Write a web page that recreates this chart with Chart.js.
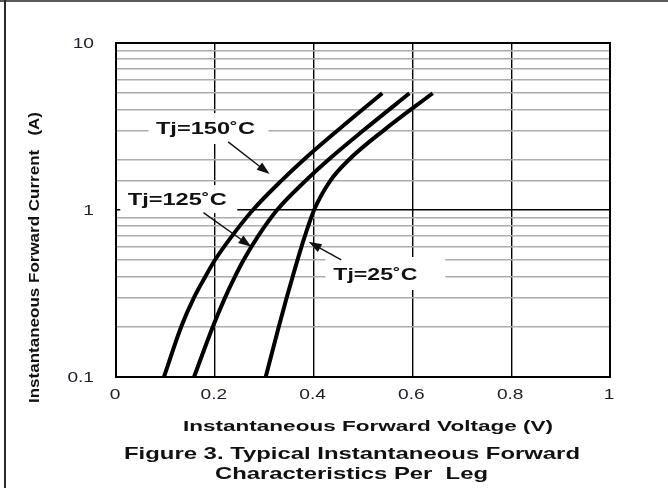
<!DOCTYPE html>
<html>
<head>
<meta charset="utf-8">
<script src="https://cdn.jsdelivr.net/npm/chart.js@4.4.0/dist/chart.umd.min.js"></script>
<style>
  html, body { margin: 0; padding: 0; background: #fff; }
  #wrap { width: 668px; height: 488px; }
</style>
</head>
<body>
<div id="wrap"><canvas id="ivChart" width="668" height="488"></canvas></div>
<script>
// forward current (A) read at each point, and forward voltage (V) per curve
const current150 = [0.1, 0.2, 0.3, 0.4, 0.5, 0.7, 1, 1.5, 2, 3, 5];
const voltage150 = [0.097, 0.132, 0.158, 0.181, 0.200, 0.235, 0.277, 0.335, 0.380, 0.449, 0.539];
const current125 = [0.1, 0.2, 0.3, 0.4, 0.5, 0.7, 1, 1.5, 2, 3, 5];
const voltage125 = [0.158, 0.196, 0.221, 0.241, 0.258, 0.288, 0.326, 0.384, 0.430, 0.501, 0.594];
const current25 = [0.1, 0.2, 0.3, 0.4, 0.6, 1, 1.5, 2, 3, 5];
const voltage25 = [0.303, 0.3295, 0.3457, 0.3577, 0.3753, 0.401, 0.434, 0.4715, 0.542, 0.641];

const curveNames = ['Tj=150˚C', 'Tj=125˚C', 'Tj=25˚C'];
const xTicks = [0, 0.2, 0.4, 0.6, 0.8, 1];
const xTickLabels = ['0', '0.2', '0.4', '0.6', '0.8', '1'];
const yTicks = [0.1, 1, 10];
const yTickLabels = ['0.1', '1', '10'];

const xTitle = 'Instantaneous Forward Voltage (V)';
const yTitle = 'Instantaneous Forward Current   (A)';
const caption = ['Figure 3. Typical Instantaneous Forward', 'Characteristics Per  Leg'];

// callouts, placed in data coordinates
const callouts = [
  { at: [0.181, 2.85], from: [0.227, 2.56], to: [0.311, 1.64], w: 99, box: [57, 63, 21, 10] },
  { at: [0.124, 1.07], from: [0.177, 0.964], to: [0.274, 0.602], w: 99, box: [57, 60, 20, 8] },
  { at: [0.525, 0.381], from: [0.456, 0.502], to: [0.390, 0.646], w: 84, box: [50, 70, 23, 10] }
];

const FONT = "'Liberation Sans', Arial, sans-serif";

function toPoints(vs, is) {
  return vs.map((v, i) => ({ x: v, y: is[i] }));
}

function stretchText(c, text, x, y, font, width, align) {
  c.save();
  c.font = font;
  const m = c.measureText(text).width;
  c.translate(x, y);
  c.scale(width / m, 1);
  c.textAlign = align || 'center';
  c.textBaseline = 'alphabetic';
  c.fillText(text, 0, 0);
  c.restore();
}

function scaledText(c, text, x, y, font, sx, align) {
  c.save();
  c.font = font;
  c.translate(x, y);
  c.scale(sx, 1);
  c.textAlign = align;
  c.textBaseline = 'alphabetic';
  c.fillText(text, 0, 0);
  c.restore();
}

const overlay = {
  id: 'overlay',
  beforeDraw(chart) {
    const c = chart.ctx;
    c.save();
    c.fillStyle = '#fff';
    c.fillRect(0, 0, chart.width, chart.height);
    c.fillStyle = '#5a5a5a';
    c.fillRect(0, 0, chart.width, 2);
    c.fillStyle = '#2a2a2a';
    c.fillRect(4, 0, 2, chart.height);
    c.restore();
  },
  beforeDatasetsDraw(chart) {
    const c = chart.ctx, xs = chart.scales.x, ys = chart.scales.y;
    c.save();
    c.fillStyle = '#fff';
    callouts.forEach(k => {
      const px = xs.getPixelForValue(k.at[0]);
      const py = ys.getPixelForValue(k.at[1]);
      c.fillRect(px - k.box[0], py - k.box[2], k.box[0] + k.box[1], k.box[2] + k.box[3]);
    });
    c.restore();
  },
  afterDatasetsDraw(chart) {
    const c = chart.ctx, a = chart.chartArea, xs = chart.scales.x, ys = chart.scales.y;
    c.save();
    c.strokeStyle = '#000';
    c.lineWidth = 2;
    c.strokeRect(a.left, a.top, a.right - a.left, a.bottom - a.top);

    callouts.forEach((k, i) => {
      const x1 = xs.getPixelForValue(k.from[0]), y1 = ys.getPixelForValue(k.from[1]);
      const x2 = xs.getPixelForValue(k.to[0]), y2 = ys.getPixelForValue(k.to[1]);
      const ang = Math.atan2(y2 - y1, x2 - x1);
      const len = 13, half = 4.5;
      c.strokeStyle = '#111';
      c.lineWidth = 1.4;
      c.beginPath();
      c.moveTo(x1, y1);
      c.lineTo(x2 - Math.cos(ang) * len * 0.8, y2 - Math.sin(ang) * len * 0.8);
      c.stroke();
      c.fillStyle = '#111';
      c.beginPath();
      c.moveTo(x2, y2);
      c.lineTo(x2 - Math.cos(ang) * len - Math.sin(ang) * half, y2 - Math.sin(ang) * len + Math.cos(ang) * half);
      c.lineTo(x2 - Math.cos(ang) * len + Math.sin(ang) * half, y2 - Math.sin(ang) * len - Math.cos(ang) * half);
      c.closePath();
      c.fill();

      c.fillStyle = '#111';
      stretchText(c, curveNames[i], xs.getPixelForValue(k.at[0]), ys.getPixelForValue(k.at[1]),
        'bold 17px ' + FONT, k.w, 'center');
    });
    c.restore();
  },
  afterDraw(chart) {
    const c = chart.ctx, a = chart.chartArea, xs = chart.scales.x, ys = chart.scales.y;
    c.save();
    c.fillStyle = '#1e1e2a';
    xTicks.forEach((v, i) => {
      scaledText(c, xTickLabels[i], xs.getPixelForValue(v) - 1, a.bottom + 22, '14.5px ' + FONT, 1.32, 'center');
    });
    yTicks.forEach((v, i) => {
      scaledText(c, yTickLabels[i], a.left - 22, ys.getPixelForValue(v) + 5, '14.5px ' + FONT, 1.32, 'right');
    });

    c.fillStyle = '#111';
    stretchText(c, xTitle, 368, 431, 'bold 15.5px ' + FONT, 370, 'center');
    stretchText(c, caption[0], 352, 459, 'bold 17px ' + FONT, 456, 'center');
    stretchText(c, caption[1], 351.5, 479, 'bold 17px ' + FONT, 273, 'center');

    // rotated y title
    c.save();
    c.translate(39, 257.5);
    c.rotate(-Math.PI / 2);
    stretchText(c, yTitle, 0, 0, 'bold 15px ' + FONT, 291, 'center');
    c.restore();
    c.restore();
  }
};

const curveStyle = {
  borderColor: '#000',
  borderWidth: 4,
  pointRadius: 0,
  fill: false,
  cubicInterpolationMode: 'monotone',
  showLine: true
};

new Chart(document.getElementById('ivChart'), {
  type: 'scatter',
  data: {
    datasets: [
      Object.assign({ label: curveNames[0], data: toPoints(voltage150, current150) }, curveStyle),
      Object.assign({ label: curveNames[1], data: toPoints(voltage125, current125) }, curveStyle),
      Object.assign({ label: curveNames[2], data: toPoints(voltage25, current25) }, curveStyle)
    ]
  },
  options: {
    responsive: false,
    animation: false,
    devicePixelRatio: 1,
    layout: { padding: { top: 43, right: 58, left: 0, bottom: 0 } },
    plugins: { legend: { display: false }, tooltip: { enabled: false } },
    scales: {
      x: {
        type: 'linear',
        min: 0,
        max: 1,
        ticks: { stepSize: 0.2, display: false },
        grid: { color: '#000', lineWidth: 1.4, drawTicks: false },
        border: { display: false },
        afterFit(scale) { scale.height = 111; }
      },
      y: {
        type: 'logarithmic',
        min: 0.1,
        max: 10,
        ticks: { display: false },
        grid: {
          drawTicks: false,
          color: ctx => {
            const v = ctx.tick ? ctx.tick.value : 0;
            return Math.abs(Math.log10(v) - Math.round(Math.log10(v))) < 1e-6 ? '#000' : '#acacac';
          },
          lineWidth: 1.6
        },
        border: { display: false },
        afterFit(scale) { scale.width = 116; }
      }
    }
  },
  plugins: [overlay]
});
</script>
</body>
</html>
